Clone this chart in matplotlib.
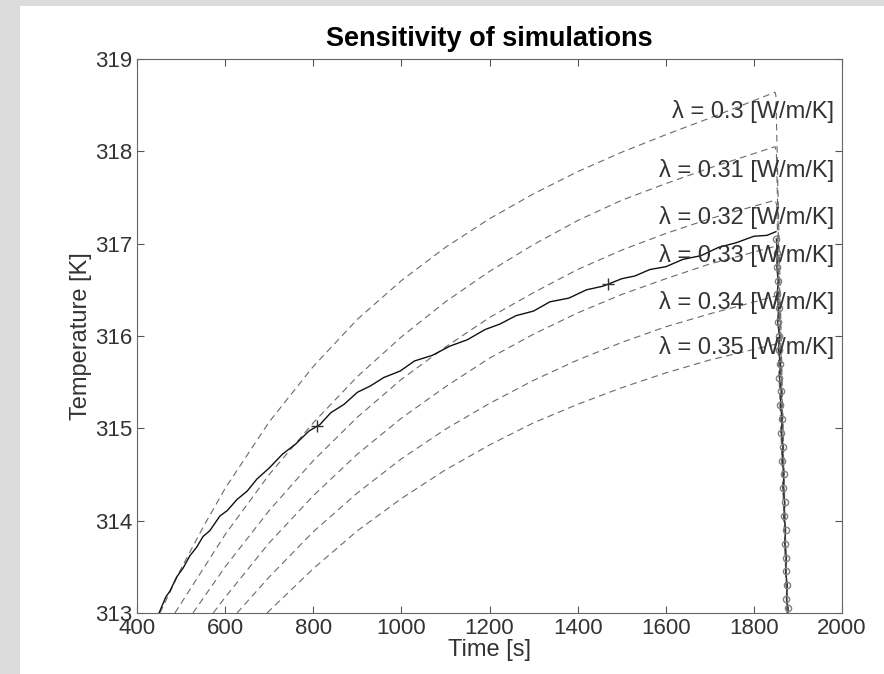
import matplotlib
matplotlib.use("Agg")
from matplotlib import pyplot as plt
from matplotlib.patches import Rectangle

plt.rcParams['font.family'] = ['Liberation Sans', 'DejaVu Sans']

# simulated curves (time [s], temperature [K])
t_sim = {
    0.30: [452, 500, 550, 600, 700, 800, 900, 1000, 1100, 1200, 1300, 1400, 1500, 1600, 1700, 1848, 1850, 1876],
    0.31: [486, 600, 700, 800, 900, 1000, 1100, 1200, 1300, 1400, 1500, 1600, 1700, 1848, 1851, 1876],
    0.32: [527, 600, 700, 800, 900, 1000, 1100, 1200, 1300, 1400, 1500, 1600, 1700, 1848, 1852, 1876],
    0.33: [573, 600, 700, 800, 900, 1000, 1100, 1200, 1300, 1400, 1500, 1600, 1700, 1848, 1853, 1876],
    0.34: [627, 700, 800, 900, 1000, 1100, 1200, 1300, 1400, 1500, 1600, 1700, 1848, 1854, 1876],
    0.35: [695, 800, 900, 1000, 1100, 1200, 1300, 1400, 1500, 1600, 1700, 1848, 1855, 1876],
}
T_sim = {
    0.30: [313.00, 313.48, 313.93, 314.35, 315.07, 315.67, 316.18, 316.60, 316.96, 317.27, 317.54, 317.78, 317.99, 318.18, 318.36, 318.64, 318.60, 312.90],
    0.31: [313.00, 313.85, 314.50, 315.06, 315.56, 315.99, 316.37, 316.70, 316.99, 317.25, 317.47, 317.65, 317.82, 318.05, 318.00, 312.90],
    0.32: [313.00, 313.50, 314.11, 314.65, 315.12, 315.53, 315.88, 316.20, 316.47, 316.72, 316.93, 317.11, 317.27, 317.47, 317.42, 312.90],
    0.33: [313.00, 313.17, 313.76, 314.27, 314.72, 315.11, 315.45, 315.76, 316.02, 316.25, 316.45, 316.62, 316.78, 316.97, 316.92, 312.90],
    0.34: [313.00, 313.39, 313.88, 314.30, 314.67, 314.99, 315.27, 315.52, 315.74, 315.93, 316.10, 316.24, 316.43, 316.38, 312.90],
    0.35: [313.00, 313.48, 313.89, 314.24, 314.55, 314.82, 315.06, 315.26, 315.44, 315.60, 315.74, 315.91, 315.86, 312.90],
}
label_T = [318.43, 317.79, 317.28, 316.87, 316.36, 315.88]

# measured curve
t_meas = [450, 465, 475, 490, 505, 520, 535, 550, 565, 588, 605, 627, 650, 672, 700, 730, 760,
          790, 815, 840, 870, 900, 930, 960, 997, 1030, 1070, 1110, 1150, 1190, 1224, 1260,
          1300, 1337, 1380, 1420, 1458, 1500, 1530, 1564, 1600, 1639, 1680, 1720, 1760, 1800,
          1830, 1850]
T_meas = [313.00, 313.17, 313.24, 313.39, 313.49, 313.62, 313.71, 313.83, 313.89, 314.05, 314.11,
          314.23, 314.32, 314.45, 314.57, 314.72, 314.83, 314.97, 315.04, 315.17, 315.26, 315.39,
          315.46, 315.55, 315.62, 315.73, 315.79, 315.89, 315.96, 316.07, 316.13, 316.22, 316.27,
          316.37, 316.41, 316.50, 316.54, 316.62, 316.65, 316.72, 316.75, 316.83, 316.87, 316.96,
          317.01, 317.08, 317.09, 317.13]
# cooling part of the measurement
t_drop = [1851, 1853, 1852, 1855, 1853, 1856, 1854, 1858, 1856, 1860, 1858, 1862, 1860, 1864,
          1862, 1866, 1864, 1868, 1866, 1870, 1868, 1872, 1870, 1874, 1872, 1876, 1874, 1878, 1877]
T_drop = [317.05, 316.90, 316.75, 316.60, 316.45, 316.30, 316.15, 316.00, 315.85, 315.70, 315.55,
          315.40, 315.25, 315.10, 314.95, 314.80, 314.65, 314.50, 314.35, 314.20, 314.05, 313.90,
          313.75, 313.60, 313.45, 313.30, 313.15, 313.05, 312.95]
mark_t = [808, 1468]
mark_T = [315.02, 316.56]

fig = plt.figure(figsize=(8.84, 6.74), dpi=100, facecolor='#dcdcdc')
fig.patches.append(Rectangle((0.0226, 0), 0.98, 0.991, transform=fig.transFigure,
                             facecolor='white', edgecolor='none', zorder=-10))
ax = fig.add_axes([0.155, 0.0905, 0.7975, 0.822])
ax.set_zorder(5)

for i, lam in enumerate(t_sim):
    ax.plot(t_sim[lam], T_sim[lam], color='#6a6a6a', lw=0.8, dashes=(6, 4))
    txt = 'λ = %g [W/m/K]' % lam
    ax.text(1982, label_T[i], txt, ha='right', va='center', fontsize=17, color='#333333')

ax.plot(t_meas, T_meas, color='#111111', lw=1.0)
ax.plot(t_drop, T_drop, color='#333333', lw=1.0, marker='o', ms=4.5, mfc='none',
        mec='#808080', mew=1.0)
ax.plot(mark_t, mark_T, ls='none', marker='+', ms=9, color='#333333')

ax.set_xlim(400, 2000)
ax.set_ylim(313, 319)
ax.set_xticks(range(400, 2001, 200))
ax.set_yticks(range(313, 320))
ax.tick_params(direction='in', length=5, top=True, right=True, labelsize=16,
               colors='#555555', labelcolor='#333333')
for s in ax.spines.values():
    s.set_color('#666666')
ax.set_xlabel('Time [s]', fontsize=17, color='#333333', labelpad=0)
ax.set_ylabel('Temperature [K]', fontsize=17, color='#333333', labelpad=2)
ax.set_title('Sensitivity of simulations', fontsize=19.5, fontweight='bold', pad=9)

plt.savefig('out.png', dpi=100, facecolor=fig.get_facecolor())
